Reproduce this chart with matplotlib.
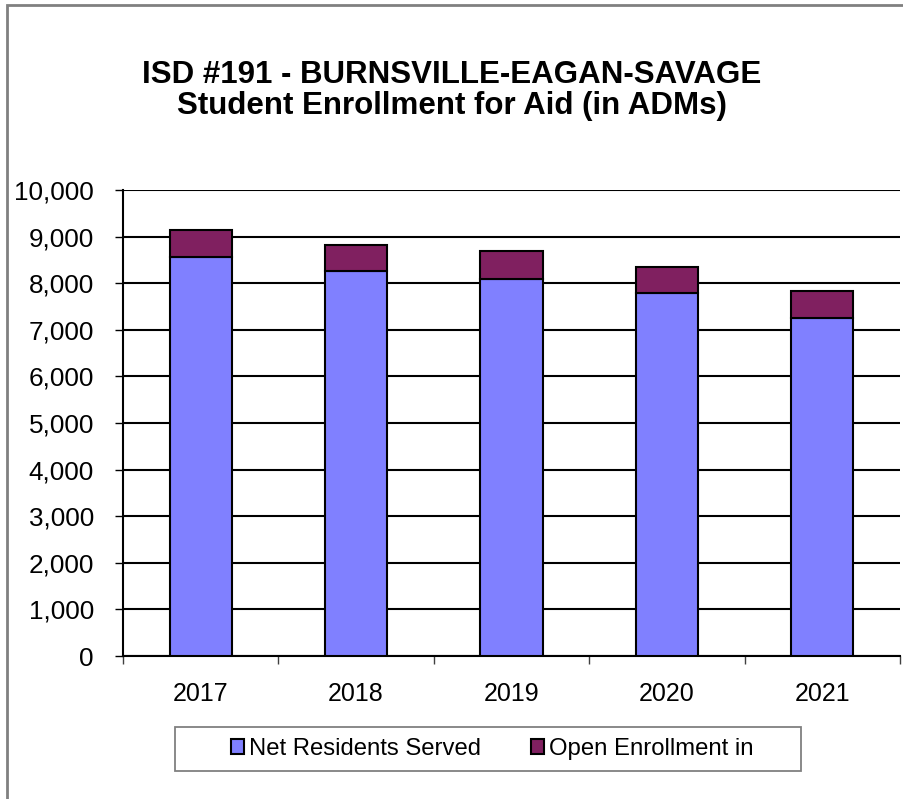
import matplotlib
matplotlib.use("Agg")
from matplotlib import pyplot as plt
from matplotlib.patches import Rectangle
from matplotlib.ticker import FuncFormatter, FixedLocator
import numpy as np

years = ["2017", "2018", "2019", "2020", "2021"]
net_residents = [8570, 8270, 8090, 7780, 7250]
open_enrollment = [570, 560, 610, 570, 590]

plt.rcParams['font.family'] = ['Liberation Sans', 'DejaVu Sans']

W, H = 904, 799
fig = plt.figure(figsize=(W / 100, H / 100), dpi=100)
# outer chart border (gray), runs off right and bottom edges
fig.patches.append(Rectangle((7 / W, -0.02), 1.0, 1 - 5 / H + 0.02,
                             transform=fig.transFigure, fill=False,
                             edgecolor="#808080", linewidth=2))
# legend box drawn by hand so the padding matches
fig.patches.append(Rectangle((175 / W, 1 - 771 / H), 626 / W, 44 / H,
                             transform=fig.transFigure, fill=False,
                             edgecolor="#808080", linewidth=1.3))

ax = fig.add_axes([123 / W, 1 - 656 / H, 777 / W, (656 - 190) / H])
x = np.arange(len(years))
ax.bar(x, net_residents, width=0.4, color="#8080FF", edgecolor="black",
       linewidth=1.5, label="Net Residents Served", zorder=3)
ax.bar(x, open_enrollment, width=0.4, bottom=net_residents, color="#802060",
       edgecolor="black", linewidth=1.5, label="Open Enrollment in", zorder=3)

ax.set_xlim(-0.5, 4.5)
ax.set_ylim(0, 10000)
ax.set_yticks(range(0, 10001, 1000))
ax.yaxis.set_major_formatter(FuncFormatter(lambda v, p: f"{int(v):,}"))
ax.yaxis.grid(True, color="black", linewidth=1.5, zorder=1)

ax.set_xticks(x)
ax.set_xticklabels(years)
ax.xaxis.set_minor_locator(FixedLocator(np.arange(-0.5, 5, 1)))
ax.tick_params(axis="x", which="major", length=0, pad=19, labelsize=18)
ax.tick_params(axis="x", which="minor", length=6, width=1, color="#404040")
ax.tick_params(axis="y", length=6, width=1, labelsize=18.8, pad=15)

ax.spines["top"].set_visible(False)
ax.spines["right"].set_visible(False)
ax.spines["left"].set_linewidth(1.5)
ax.spines["bottom"].set_linewidth(1.5)

fig.text(0.5, 1 - 75 / H, "ISD #191 - BURNSVILLE-EAGAN-SAVAGE",
         ha="center", va="center", fontsize=22.5, fontweight="bold")
fig.text(0.5, 1 - 106 / H, "Student Enrollment for Aid (in ADMs)",
         ha="center", va="center", fontsize=22.5, fontweight="bold")

leg = fig.legend(loc="center", bbox_to_anchor=(492 / W, 1 - 749 / H),
                 ncol=2, fontsize=17.2, frameon=False,
                 handlelength=0.55, handleheight=0.55,
                 handletextpad=0.2, columnspacing=2.1)
for h in leg.legend_handles:
    h.set_linewidth(1.5)
    h.set_edgecolor("black")

plt.savefig("out.png", dpi=100)
